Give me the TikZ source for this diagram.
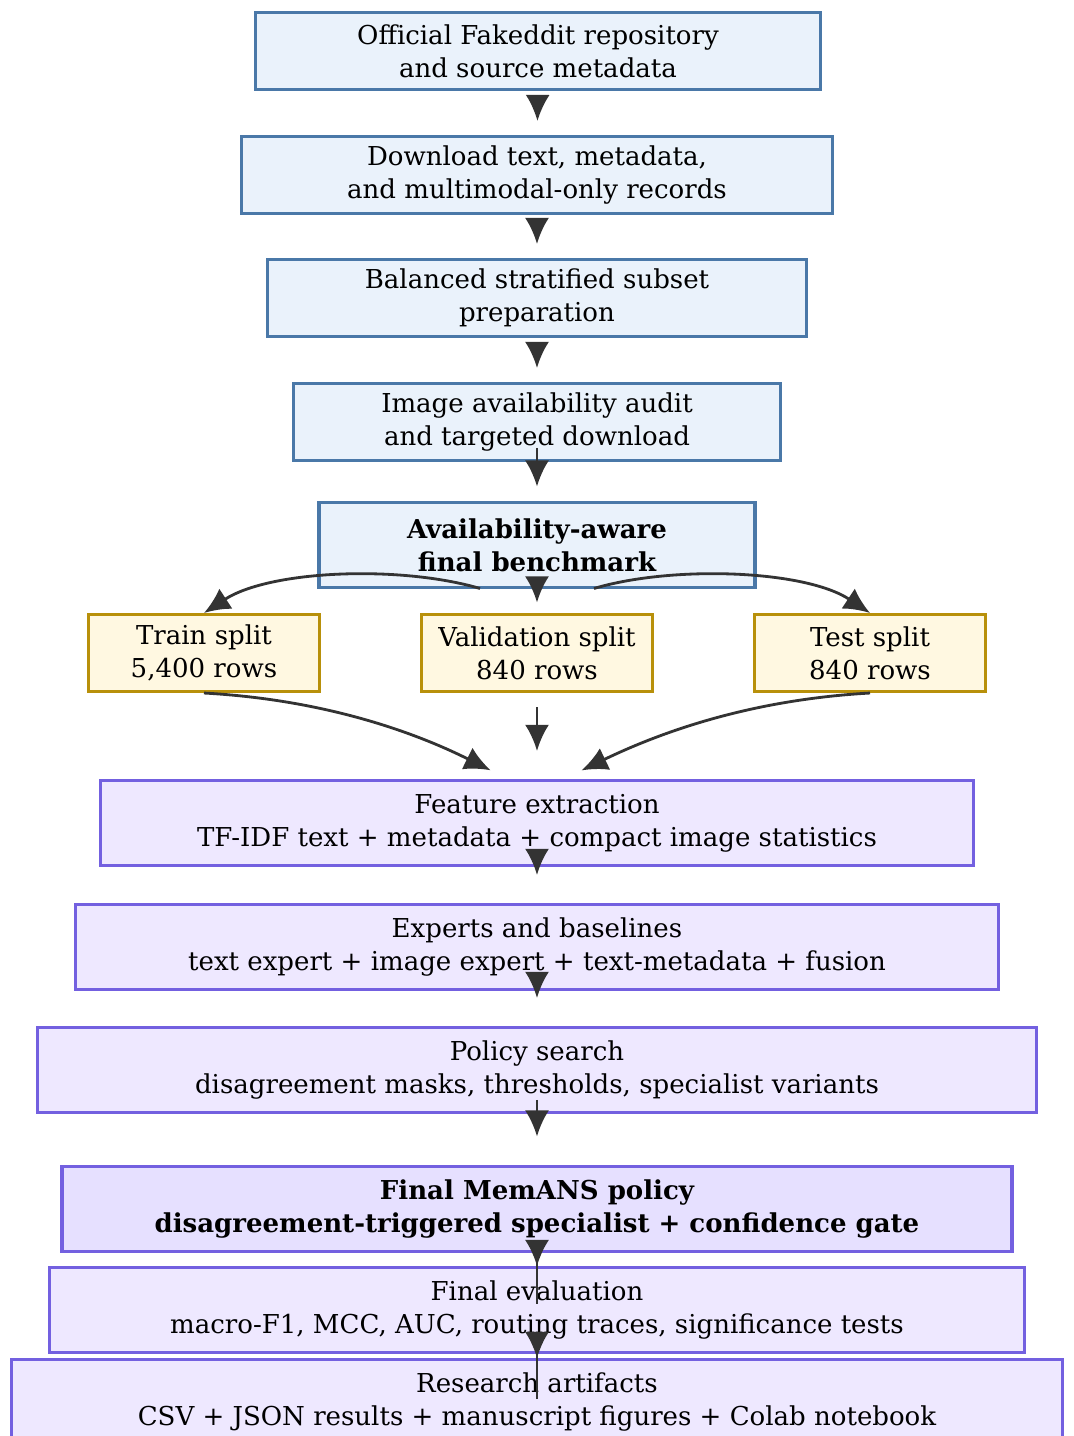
\documentclass[tikz,border=0pt]{standalone}
\usepackage{fontspec}
\setmainfont{DejaVu Serif}
\usetikzlibrary{calc,arrows.meta}
\definecolor{srcfill}{HTML}{EAF2FB}
\definecolor{srcline}{HTML}{4A78A8}
\definecolor{splitfill}{HTML}{FFF8E1}
\definecolor{splitline}{HTML}{B8900A}
\definecolor{procfill}{HTML}{EEE8FF}
\definecolor{procline}{HTML}{7360E0}
\definecolor{keyfill}{HTML}{E6E0FF}
\definecolor{flowcol}{HTML}{333333}
\tikzset{
  box/.style={draw, line width=0.85pt, align=center, inner sep=0pt,
    font=\fontsize{7.4}{9.4}\selectfont},
  srcbox/.style={box, draw=srcline, fill=srcfill},
  splitbox/.style={box, draw=splitline, fill=splitfill,
    minimum width=2.31cm, minimum height=0.77cm},
  procbox/.style={box, draw=procline, fill=procfill, minimum height=0.85cm},
  keybox/.style={line width=1.1pt, font=\fontsize{7.4}{9.4}\selectfont\bfseries},
  flow/.style={draw=flowcol, line width=0.8pt, -{Latex[length=2.6mm,width=2.4mm]}}
}
\begin{document}
\begin{tikzpicture}[x=0.01cm, y=-0.01cm]
  \useasboundingbox (0,0) rectangle (1074,1436);

  % data preparation
  \node[srcbox, minimum width=5.64cm, minimum height=0.77cm] (repo) at (538,51)
    {Official Fakeddit repository\\and source metadata};
  \node[srcbox, minimum width=5.90cm, minimum height=0.77cm] (dl) at (537,175)
    {Download text, metadata,\\and multimodal-only records};
  \node[srcbox, minimum width=5.39cm, minimum height=0.77cm] (subset) at (537,298)
    {Balanced stratified subset\\preparation};
  \node[srcbox, minimum width=4.87cm, minimum height=0.77cm] (audit) at (537,422)
    {Image availability audit\\and targeted download};
  \node[srcbox, keybox, minimum width=4.36cm, minimum height=0.85cm] (bench) at (537,545)
    {Availability-aware\\final benchmark};

  % splits
  \node[splitbox] (train) at (204,653) {Train split\\5,400 rows};
  \node[splitbox] (val) at (537,653) {Validation split\\840 rows};
  \node[splitbox] (test) at (870,653) {Test split\\840 rows};

  % modelling
  \node[procbox, minimum width=8.72cm] (feat) at (537,823)
    {Feature extraction\\TF-IDF text + metadata + compact image statistics};
  \node[procbox, minimum width=9.23cm] (experts) at (537,947)
    {Experts and baselines\\text expert + image expert + text-metadata + fusion};
  \node[procbox, minimum width=9.99cm] (policy) at (537,1070)
    {Policy search\\disagreement masks, thresholds, specialist variants};
  \node[procbox, keybox, fill=keyfill, minimum width=9.49cm] (memans) at (537,1209)
    {Final MemANS policy\\disagreement-triggered specialist + confidence gate};
  \node[procbox, minimum width=9.74cm] (evalb) at (537,1310)
    {Final evaluation\\macro-F1, MCC, AUC, routing traces, significance tests};
  \node[procbox, minimum width=10.50cm] (artif) at (537,1402)
    {Research artifacts\\CSV + JSON results + manuscript figures + Colab notebook};

  % connectors
  \draw[flow, shorten <=4pt, shorten >=4pt] (repo) -- (dl);
  \draw[flow, shorten <=4pt, shorten >=4pt] (dl) -- (subset);
  \draw[flow, shorten <=4pt, shorten >=4pt] (subset) -- (audit);
  \draw[flow, shorten <=4pt, shorten >=4pt] (audit) -- (bench);
  \draw[flow] ($(bench.south)+(-57,-1)$) .. controls (400,565) and (270,570) .. (train.north);
  \draw[flow, shorten >=3pt] (bench) -- (val);
  \draw[flow] ($(bench.south)+(57,-1)$) .. controls (673,565) and (805,570) .. (test.north);
  \draw[flow, shorten >=3pt] (train.south) .. controls (330,700) and (420,735) .. ($(feat.north)+(-37,-4)$);
  \draw[flow, shorten <=4pt, shorten >=8pt] (val) -- (feat);
  \draw[flow, shorten >=3pt] (test.south) .. controls (745,700) and (655,735) .. ($(feat.north)+(35,-4)$);
  \draw[flow, shorten <=4pt, shorten >=8pt] (feat) -- (experts);
  \draw[flow, shorten <=4pt, shorten >=8pt] (experts) -- (policy);
  \draw[flow, shorten <=4pt, shorten >=8pt] (policy) -- (memans);
  \draw[flow, shorten <=-5mm] (memans) -- (evalb);
  \draw[flow, shorten <=-4.5mm] (evalb) -- (artif);
\end{tikzpicture}
\end{document}
